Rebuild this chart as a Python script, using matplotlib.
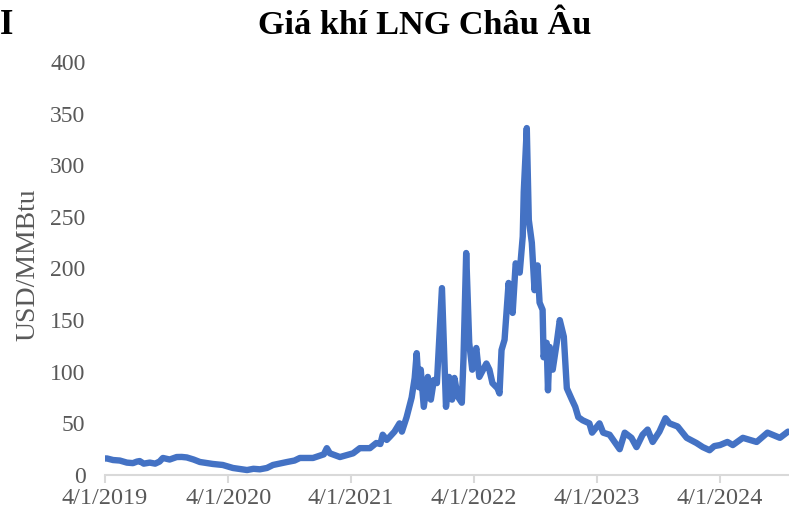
import pandas as pd
import matplotlib
matplotlib.use("Agg")
import matplotlib.pyplot as plt

# Giá khí LNG châu Âu (USD/MMBtu)
dates = [
    "2019-04-01", "2019-04-07", "2019-04-25", "2019-05-15", "2019-06-05", "2019-06-23",
    "2019-07-05", "2019-07-13", "2019-07-25", "2019-08-12", "2019-08-28", "2019-09-10",
    "2019-09-20", "2019-10-10", "2019-10-31", "2019-11-15", "2019-11-30", "2019-12-20",
    "2020-01-08", "2020-02-15", "2020-03-16", "2020-04-15", "2020-05-27", "2020-06-15",
    "2020-07-04", "2020-07-25", "2020-08-12", "2020-09-23", "2020-10-15", "2020-10-31",
    "2020-12-09", "2021-01-10", "2021-01-19", "2021-01-28", "2021-02-27", "2021-04-07",
    "2021-04-27", "2021-05-27", "2021-06-15", "2021-06-27", "2021-07-04", "2021-07-16",
    "2021-07-25", "2021-08-08", "2021-08-23", "2021-08-30", "2021-09-13", "2021-09-28",
    "2021-10-07", "2021-10-13", "2021-10-19", "2021-10-25", "2021-11-03", "2021-11-15",
    "2021-11-24", "2021-12-03", "2021-12-12", "2021-12-27", "2022-01-08", "2022-01-17",
    "2022-01-26", "2022-02-02", "2022-02-12", "2022-02-24", "2022-03-01", "2022-03-09",
    "2022-03-18", "2022-03-27", "2022-04-08", "2022-04-17", "2022-05-08", "2022-05-17",
    "2022-05-26", "2022-06-10", "2022-06-16", "2022-06-22", "2022-07-01", "2022-07-13",
    "2022-07-25", "2022-08-03", "2022-08-15", "2022-08-24", "2022-08-27", "2022-09-05",
    "2022-09-11", "2022-09-20", "2022-09-28", "2022-10-07", "2022-10-13", "2022-10-22",
    "2022-10-25", "2022-11-03", "2022-11-07", "2022-11-12", "2022-11-21", "2022-12-03",
    "2022-12-12", "2022-12-24", "2023-01-02", "2023-01-17", "2023-01-27", "2023-02-05",
    "2023-02-18", "2023-03-10", "2023-03-18", "2023-04-09", "2023-04-20", "2023-05-09",
    "2023-06-08", "2023-06-23", "2023-07-13", "2023-07-28", "2023-08-15", "2023-08-30",
    "2023-09-14", "2023-10-04", "2023-10-22", "2023-11-03", "2023-11-27", "2023-12-24",
    "2024-01-22", "2024-02-10", "2024-03-01", "2024-03-15", "2024-04-01", "2024-04-23",
    "2024-05-09", "2024-06-08", "2024-07-19", "2024-08-20", "2024-09-26", "2024-10-20",
]
prices = [
    16, 16, 14.5, 14, 12, 11.5,
    13, 13.5, 11, 12, 11, 13,
    16.5, 15, 17.4, 17.5, 17, 15,
    12.6, 10.7, 9.7, 6.8, 4.8, 6,
    5.5, 6.8, 9.7, 12.6, 14, 16.5,
    16.5, 20, 26, 21, 17.4, 21,
    26, 26, 31, 30, 39, 34,
    37, 42, 50, 42, 56, 75,
    94, 118, 85, 102, 66, 95,
    73, 92, 89, 181, 66, 95,
    73, 94, 76, 70, 113, 215,
    128, 102, 123, 95, 108, 102,
    89, 84, 79, 121, 131, 186,
    157, 205, 196, 231, 274, 336,
    247, 225, 179, 203, 167, 160,
    114, 128, 82, 124, 102, 128,
    150, 134, 84, 73, 66, 56,
    53, 50, 41, 50, 41, 39,
    25, 41, 36, 27, 39, 44,
    32, 42, 55, 50, 47, 36,
    31, 27, 24, 28, 29, 32,
    29, 36, 32, 41, 36, 42,
]
tick_dates = ["2019-04-01", "2020-04-01", "2021-04-01", "2022-04-01", "2023-04-01", "2024-04-01"]
tick_labels = ["4/1/2019", "4/1/2020", "4/1/2021", "4/1/2022", "4/1/2023", "4/1/2024"]

plt.rcParams["font.family"] = ["Liberation Serif", "DejaVu Serif"]

df = pd.DataFrame({"date": pd.to_datetime(dates), "price": prices})

fig = plt.figure(figsize=(7.89, 5.14), dpi=100)
ax = fig.add_axes([105 / 789, 1 - 475 / 514, 684 / 789, 413 / 514])

ax.plot(df["date"], df["price"], color="#4472C4", linewidth=4.6, solid_joinstyle="round",
        solid_capstyle="round")

ax.set_ylim(0, 400)
ax.set_yticks(range(0, 401, 50))
ax.set_xlim(pd.Timestamp("2019-04-01"), pd.Timestamp("2024-10-23"))
ax.set_xticks(pd.to_datetime(tick_dates))
ax.set_xticklabels(tick_labels)

for side in ["top", "right", "left"]:
    ax.spines[side].set_visible(False)
ax.spines["bottom"].set_color("#D9D9D9")
ax.spines["bottom"].set_linewidth(1.5)

ax.tick_params(axis="y", length=0, pad=14, labelsize=17, labelcolor="#595959")
ax.tick_params(axis="x", length=6, width=1.5, color="#D9D9D9", pad=3,
               labelsize=17.5, labelcolor="#595959")

fig.text(28 / 789, 1 - 265 / 514, "USD/MMBtu", rotation=90, ha="center", va="center",
         fontsize=20, color="#595959")
fig.text(425 / 789, 1 - 26 / 514, "Giá khí LNG Châu Âu", ha="center", va="center",
         fontsize=24.7, fontweight="bold", color="black")
fig.text(0.0, 1 - 26 / 514, "I", ha="left", va="center",
         fontsize=25, fontweight="bold", color="black")

fig.savefig("out.png", dpi=100)
